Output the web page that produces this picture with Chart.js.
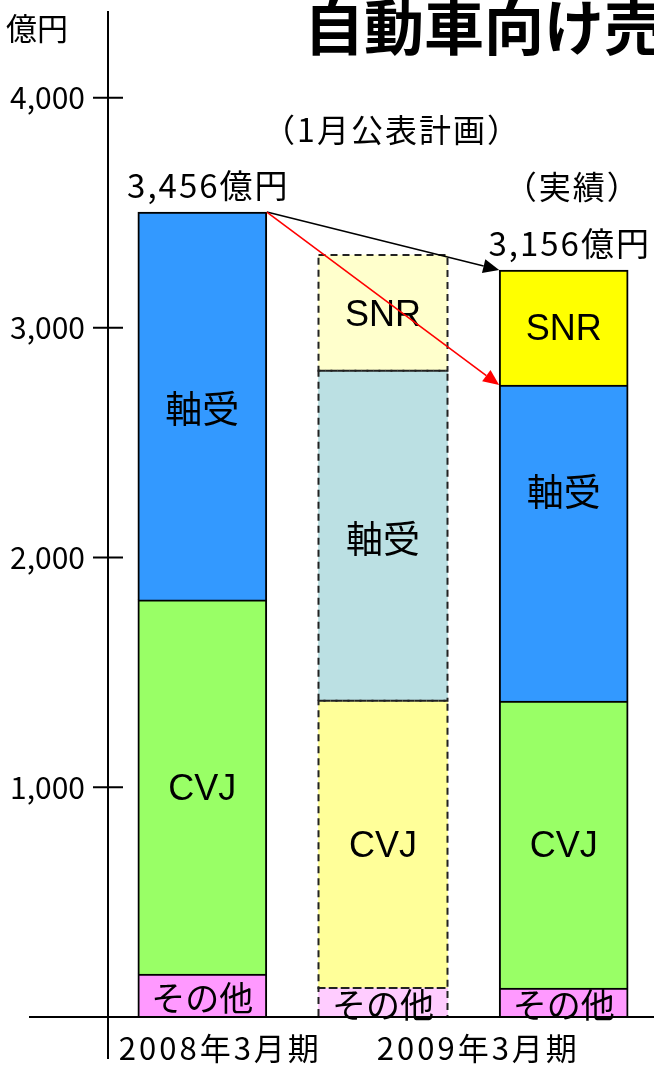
<!DOCTYPE html>
<html>
<head>
<meta charset="utf-8">
<script src="https://cdn.jsdelivr.net/npm/chart.js@4"></script>
<style>
  html, body { margin: 0; padding: 0; background: #fff; }
  #wrap { width: 654px; height: 1065px; }
</style>
</head>
<body>
<div id="wrap"><canvas id="salesChart"></canvas></div>
<script>
// data (億円)
const bars = ['2008年3月期', '2009年3月期（1月公表計画）', '2009年3月期（実績）'];
const periods = ['2008年3月期', '2009年3月期'];
const segments = ['その他', 'CVJ', '軸受', 'SNR'];
const otherValues = [187, 126, 126];
const cvjValues = [1628, 1250, 1249];
const bearingValues = [1688, 1436, 1375];
const snrValues = [null, 504, 501];
const totalLabels = ['3,456億円', '', '3,156億円'];
const noteLabels = ['', '（1月公表計画）', '（実績）'];
const yTicks = [1000, 2000, 3000, 4000];

const seriesValues = [otherValues, cvjValues, bearingValues, snrValues];
const actualColors = ['#ff99ff', '#99ff66', '#3399ff', '#ffff00'];
const planColors = ['#ffccff', '#ffff99', '#bbe0e3', '#ffffcc'];
const PLAN = 1;
const JP = '"Noto Sans CJK JP", sans-serif';
const LATIN = '"Liberation Sans", "Noto Sans CJK JP", sans-serif';

const decor = {
  id: 'decor',
  afterDatasetsDraw(chart) {
    const c = chart.ctx;
    const metas = chart.data.datasets.map((d, i) => chart.getDatasetMeta(i));
    const valid = (i, j) => seriesValues[i][j] !== null;

    // dashed outline for the plan bar
    c.save();
    c.strokeStyle = '#222';
    c.lineWidth = 2;
    c.setLineDash([7, 5]);
    metas.forEach((m, i) => {
      if (!valid(i, PLAN)) return;
      const el = m.data[PLAN];
      c.strokeRect(el.x - el.width / 2, el.y, el.width, el.base - el.y);
    });
    c.restore();

    // labels inside the segments
    c.save();
    c.fillStyle = '#000';
    c.textAlign = 'center';
    c.textBaseline = 'middle';
    metas.forEach((m, i) => {
      m.data.forEach((el, j) => {
        if (!valid(i, j)) return;
        const name = segments[i];
        c.font = name === 'その他' ? '34px ' + JP : (name === '軸受' ? '37px ' + JP : '36px ' + LATIN);
        let cy = (el.y + el.base) / 2 + 3;
        if (i === 2 && j === 2) cy -= 54;
        c.fillText(name, el.x, cy);
      });
    });
    c.restore();

    // totals, notes, arrows
    const topOf = j => Math.min(...metas.filter((m, i) => valid(i, j)).map(m => m.data[j].y));
    const noteGap = [0, 125, 83];
    c.save();
    c.fillStyle = '#000';
    c.textAlign = 'center';
    c.textBaseline = 'middle';
    c.letterSpacing = '2px';
    bars.forEach((b, j) => {
      const x = metas[0].data[j].x + 6;
      const top = topOf(j);
      c.font = '33px ' + JP;
      if (totalLabels[j]) c.fillText(totalLabels[j], x, top - 27);
      c.font = '32px ' + JP;
      if (noteLabels[j]) c.fillText(noteLabels[j], x + 3, top - noteGap[j]);
    });
    c.restore();

    const first = metas[0].data[0];
    const last = metas[0].data[2];
    const sx = first.x + first.width / 2, sy = topOf(0);
    const tx = last.x - last.width / 2;
    arrow(c, sx, sy, tx, topOf(2), '#000');
    arrow(c, sx, sy, tx, metas[2].data[2].y, '#ff0000');
  },
  afterDraw(chart) {
    const c = chart.ctx;
    const area = chart.chartArea;
    const ys = chart.scales.y;
    const ax = area.left - 4;
    c.save();
    c.strokeStyle = '#000';
    c.lineWidth = 2;
    c.beginPath();
    c.moveTo(ax, area.top);
    c.lineTo(ax, area.bottom + 42);
    c.moveTo(29, area.bottom);
    c.lineTo(chart.width, area.bottom);
    yTicks.forEach(v => {
      const py = ys.getPixelForValue(v);
      c.moveTo(ax - 15, py);
      c.lineTo(ax + 15, py);
    });
    c.stroke();

    c.fillStyle = '#000';
    c.textBaseline = 'middle';
    c.textAlign = 'left';
    c.font = '31px ' + JP;
    c.fillText('億円', 6, 28);
    c.font = 'bold 60px ' + JP;
    c.fillText('自動車向け売', 304, 27);

    const xs = chart.getDatasetMeta(0).data.map(el => el.x);
    c.textAlign = 'center';
    c.letterSpacing = '3px';
    c.font = '31px ' + JP;
    c.fillText(periods[0], xs[0] + 18, area.bottom + 31);
    c.fillText(periods[1], (xs[1] + xs[2]) / 2 + 5, area.bottom + 31);
    c.restore();
  }
};

function arrow(c, x1, y1, x2, y2, color) {
  const a = Math.atan2(y2 - y1, x2 - x1);
  const len = 16, half = 7;
  const bx = x2 - len * Math.cos(a), by = y2 - len * Math.sin(a);
  c.save();
  c.strokeStyle = color;
  c.fillStyle = color;
  c.lineWidth = 1.6;
  c.beginPath();
  c.moveTo(x1, y1);
  c.lineTo(bx, by);
  c.stroke();
  c.beginPath();
  c.moveTo(x2, y2);
  c.lineTo(bx + half * Math.sin(a), by - half * Math.cos(a));
  c.lineTo(bx - half * Math.sin(a), by + half * Math.cos(a));
  c.closePath();
  c.fill();
  c.restore();
}

const ctx = document.getElementById('salesChart').getContext('2d');

new Chart(ctx, {
  type: 'bar',
  data: {
    labels: bars,
    datasets: segments.map((name, i) => ({
      label: name,
      data: seriesValues[i],
      backgroundColor: [actualColors[i], planColors[i], actualColors[i]],
      borderColor: '#000',
      borderWidth: [2, 0, 2],
      barThickness: 129
    }))
  },
  options: {
    responsive: true,
    maintainAspectRatio: false,
    animation: false,
    layout: { padding: { top: 11, left: 0, right: 0, bottom: 0 } },
    plugins: {
      legend: { display: false },
      tooltip: { enabled: false },
      title: { display: false }
    },
    scales: {
      x: {
        stacked: true,
        grid: { display: false },
        border: { display: false },
        ticks: { display: false },
        afterFit: s => { s.height = 48; s.paddingLeft = 0; s.paddingRight = 0; }
      },
      y: {
        stacked: true,
        min: 0,
        max: 4378,
        afterBuildTicks: s => { s.ticks = yTicks.map(v => ({ value: v })); },
        afterFit: s => { s.width = 112; s.paddingTop = 0; s.paddingBottom = 0; },
        grid: { display: false, drawTicks: true, tickLength: 19 },
        border: { display: false },
        ticks: {
          color: '#000',
          padding: 8,
          font: { family: 'Noto Sans CJK JP', size: 30 }
        }
      }
    }
  },
  plugins: [decor]
});
</script>
</body>
</html>
